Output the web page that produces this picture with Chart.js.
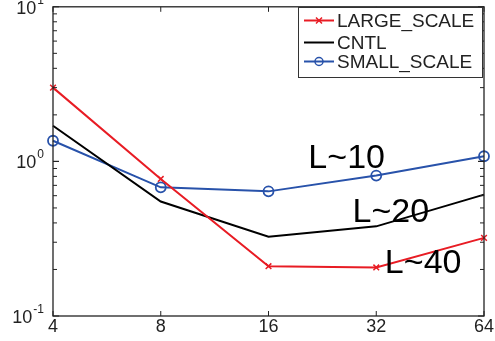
<!DOCTYPE html>
<html>
<head>
<meta charset="utf-8">
<script src="https://cdn.jsdelivr.net/npm/chart.js@4/dist/chart.umd.min.js"></script>
<style>
  html, body { margin: 0; padding: 0; background: #fff; }
  #wrap { width: 495px; height: 341px; }
</style>
</head>
<body>
<div id="wrap"><canvas id="c" width="495" height="341"></canvas></div>
<script>
// Horizontal categories (grid sizes, doubled each step)
const categories = ['4', '8', '16', '32', '64'];

// Series values (log-scaled y)
const largeScale = [3.0, 0.77, 0.21, 0.206, 0.32];
const cntl = [1.7, 0.55, 0.326, 0.38, 0.61];
const smallScale = [1.36, 0.68, 0.64, 0.81, 1.08];

// Decade tick labels on the y axis: value and exponent text
const yDecades = [0.1, 1, 10];
const yDecadeExponents = ['-1', '0', '1'];

// In-plot labels: text, x position (category index), y value at baseline
const noteTexts = ['L~10', 'L~20', 'L~40'];
const noteX = [2.37, 2.78, 3.08];
const noteY = [0.90, 0.406, 0.189];

const RED = 'rgb(232,28,36)';
const BLUE = 'rgb(40,82,170)';
const FONT = '"Liberation Sans", Arial, Helvetica, sans-serif';

const axesPlugin = {
  id: 'matlabAxes',
  afterDraw(chart) {
    const ctx = chart.ctx;
    const a = chart.chartArea;
    const xs = chart.scales.x;
    const ys = chart.scales.y;
    ctx.save();

    // frame
    ctx.strokeStyle = '#222';
    ctx.lineWidth = 1.3;
    ctx.strokeRect(a.left, a.top, a.right - a.left, a.bottom - a.top);

    // x ticks (bottom and top, pointing inward)
    ctx.lineWidth = 1;
    const tl = 5;
    categories.forEach((c, i) => {
      const px = xs.getPixelForValue(i);
      ctx.beginPath();
      ctx.moveTo(px, a.bottom); ctx.lineTo(px, a.bottom - tl);
      ctx.moveTo(px, a.top); ctx.lineTo(px, a.top + tl);
      ctx.stroke();
    });

    // y ticks: decades and minor ticks, both sides
    for (let e = -1; e <= 0; e++) {
      for (let m = 1; m <= 10; m++) {
        const v = m * Math.pow(10, e);
        const py = ys.getPixelForValue(v);
        const len = (m === 1 || m === 10) ? 6 : 4;
        ctx.beginPath();
        ctx.moveTo(a.left, py); ctx.lineTo(a.left + len, py);
        ctx.moveTo(a.right, py); ctx.lineTo(a.right - len, py);
        ctx.stroke();
      }
    }

    // x tick labels
    ctx.fillStyle = '#222';
    ctx.font = '18px ' + FONT;
    ctx.textAlign = 'center';
    ctx.textBaseline = 'middle';
    categories.forEach((c, i) => {
      ctx.fillText(c, xs.getPixelForValue(i), a.bottom + 11);
    });

    // y decade labels with superscript exponent
    yDecades.forEach((v, i) => {
      const py = ys.getPixelForValue(v);
      const exp = yDecadeExponents[i];
      ctx.font = '12px ' + FONT;
      const ew = ctx.measureText(exp).width;
      const expRight = a.left - 9;
      ctx.textAlign = 'right';
      ctx.textBaseline = 'alphabetic';
      ctx.fillText(exp, expRight, py - 3);
      ctx.font = '18px ' + FONT;
      ctx.fillText('10', expRight - ew - 1, py + 7);
    });

    // in-plot notes
    ctx.fillStyle = '#000';
    ctx.font = '34px ' + FONT;
    ctx.textAlign = 'left';
    ctx.textBaseline = 'alphabetic';
    noteTexts.forEach((t, i) => {
      ctx.fillText(t, xs.getPixelForValue(noteX[i]), ys.getPixelForValue(noteY[i]));
    });

    // legend box
    const bx = 298, by = 7, bw = 184, bh = 70;
    ctx.fillStyle = '#fff';
    ctx.fillRect(bx, by, bw, bh);
    ctx.strokeStyle = '#333';
    ctx.lineWidth = 1;
    ctx.strokeRect(bx + 0.5, by + 0.5, bw, bh);
    const rows = [20.5, 42.5, 61.5];
    chart.data.datasets.forEach((ds, i) => {
      const y = rows[i];
      ctx.strokeStyle = ds.borderColor;
      ctx.lineWidth = 2;
      ctx.beginPath();
      ctx.moveTo(304, y); ctx.lineTo(334, y);
      ctx.stroke();
      const cx = 319;
      ctx.lineWidth = 1.5;
      if (ds.pointStyle === 'crossRot') {
        ctx.beginPath();
        ctx.moveTo(cx - 3, y - 3); ctx.lineTo(cx + 3, y + 3);
        ctx.moveTo(cx - 3, y + 3); ctx.lineTo(cx + 3, y - 3);
        ctx.stroke();
      } else if (ds.pointStyle === 'circle' && ds.pointRadius > 0) {
        ctx.beginPath();
        ctx.arc(cx, y, 4, 0, Math.PI * 2);
        ctx.stroke();
      }
      ctx.fillStyle = '#222';
      ctx.font = '19px ' + FONT;
      ctx.textAlign = 'left';
      ctx.textBaseline = 'middle';
      ctx.fillText(ds.label, 337, y + 1);
    });

    ctx.restore();
  }
};

new Chart(document.getElementById('c'), {
  type: 'line',
  data: {
    labels: categories,
    datasets: [
      {
        label: 'LARGE_SCALE', data: largeScale,
        borderColor: RED, borderWidth: 2,
        pointStyle: 'crossRot', pointRadius: 4, pointBorderWidth: 1.5,
        pointBorderColor: RED, pointBackgroundColor: RED
      },
      {
        label: 'CNTL', data: cntl,
        borderColor: '#000', borderWidth: 2,
        pointStyle: 'circle', pointRadius: 0
      },
      {
        label: 'SMALL_SCALE', data: smallScale,
        borderColor: BLUE, borderWidth: 2,
        pointStyle: 'circle', pointRadius: 5, pointBorderWidth: 1.8,
        pointBorderColor: BLUE, pointBackgroundColor: 'rgba(0,0,0,0)'
      }
    ]
  },
  options: {
    responsive: false,
    animation: false,
    layout: { padding: { left: 53, right: 11, top: 4, bottom: 25 } },
    plugins: { legend: { display: false }, tooltip: { enabled: false } },
    scales: {
      x: { type: 'category', display: false, offset: false },
      y: { type: 'logarithmic', display: false, min: 0.1, max: 10 }
    }
  },
  plugins: [axesPlugin]
});
</script>
</body>
</html>
